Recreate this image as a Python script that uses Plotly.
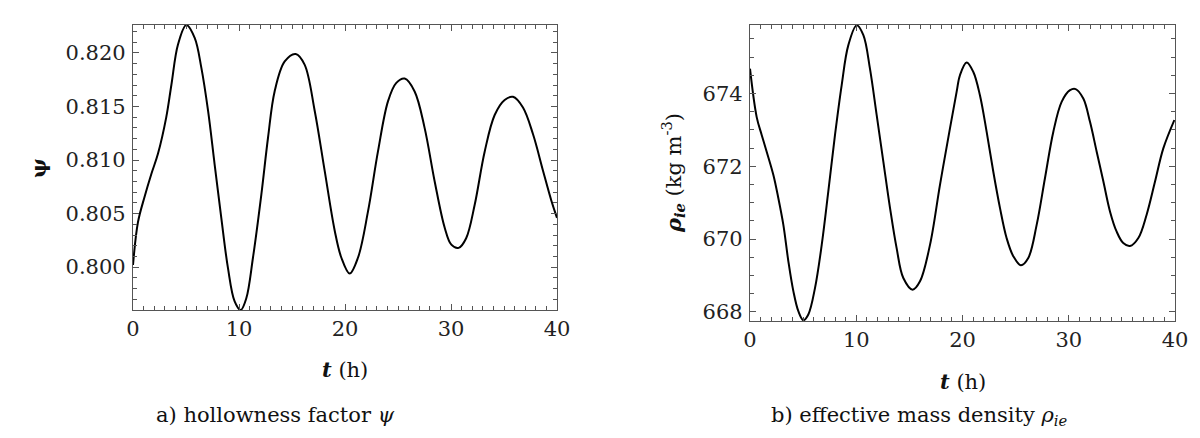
import plotly.graph_objects as go

# hollowness factor psi, read off panel a)
t_psi = [0, 0.47, 1.10, 1.73, 2.36, 3.14, 3.62, 4.25, 5.03, 5.82, 6.45, 7.08,
         7.70, 8.33, 8.96, 9.59, 10.16, 10.69, 11.32, 12.11, 12.74, 13.36, 14.31, 15.35,
         16.19, 17.14, 18.08, 19.03, 19.65, 20.44, 21.23, 22.17, 23.11, 24.06, 24.84,
         25.63, 26.57, 27.51, 28.46, 29.40, 30.03, 30.72, 31.43, 32.23, 33.18, 34.12,
         35.06, 35.85, 36.79, 37.74, 38.68, 39.47, 40.0]
psi = [0.8002, 0.8042, 0.8066, 0.8087, 0.8106, 0.8140, 0.8170, 0.8208,
       0.8226, 0.8214, 0.8186, 0.8146, 0.8096, 0.8046, 0.7999, 0.7968, 0.7960, 0.7971,
       0.8009, 0.8068, 0.8121, 0.8164, 0.8192, 0.8199, 0.8189, 0.8146, 0.8090, 0.8034,
       0.8009, 0.7994, 0.8009, 0.8052, 0.8108, 0.8155, 0.8172, 0.8176, 0.8164, 0.8130,
       0.8080, 0.8037, 0.8021, 0.8018, 0.8027, 0.8058, 0.8108, 0.8142, 0.8156, 0.8159,
       0.8149, 0.8124, 0.8090, 0.8062, 0.8046]

# effective mass density rho_ie (kg m^-3), read off panel b)
t_rho = [0, 0.63, 1.10, 1.57, 2.20, 2.67, 3.14, 3.61, 4.08, 4.55, 5.02, 5.49, 6.12,
         6.75, 7.37, 8.0, 8.63, 9.25, 10.04, 10.67, 11.29, 11.92, 12.55, 13.18, 13.80,
         14.43, 15.31, 16.0, 16.94, 17.88, 18.82, 19.45, 19.76, 20.39, 21.02, 21.64,
         22.27, 22.9, 23.53, 24.15, 24.78, 25.5, 26.19, 26.98, 27.76, 28.55, 29.33,
         30.12, 30.65, 31.37, 32.0, 32.63, 33.26, 33.88, 34.5, 35.13, 35.76, 36.55,
         37.33, 38.12, 38.9, 39.94]
rho = [674.68, 673.35, 672.86, 672.40, 671.76, 671.12, 670.39, 669.39, 668.57,
       668.02, 667.77, 667.93, 668.66, 669.84, 671.31, 672.86, 674.23, 675.32, 675.87,
       675.60, 674.68, 673.41, 672.13, 670.85, 669.75, 668.93, 668.61, 668.84, 669.84,
       671.49, 673.04, 674.05, 674.50, 674.85, 674.59, 673.95, 672.95, 671.85, 670.85,
       670.03, 669.53, 669.28, 669.48, 670.39, 671.67, 672.95, 673.77, 674.09, 674.12,
       673.86, 673.22, 672.40, 671.58, 670.76, 670.21, 669.89, 669.81, 670.03, 670.67,
       671.58, 672.49, 673.27]

W, H = 1200, 438
FONT = "DejaVu Serif"
FRAME = "#555555"


def px_x(x):
    return x / W


def px_y(y):
    return 1 - y / H


fig = go.Figure()
fig.add_trace(go.Scatter(x=t_psi, y=psi, mode="lines", line=dict(color="black", width=2, shape="spline"),
                         xaxis="x", yaxis="y", showlegend=False))
fig.add_trace(go.Scatter(x=t_rho, y=rho, mode="lines", line=dict(color="black", width=2, shape="spline"),
                         xaxis="x2", yaxis="y2", showlegend=False))

common = dict(showline=True, linecolor=FRAME, linewidth=1.2, mirror="ticks", ticks="inside",
              tickcolor=FRAME, ticklen=6, tickwidth=1, showgrid=False, zeroline=False,
              automargin=False, tickfont=dict(family=FONT, size=21, color="#222222"))

fig.update_layout(
    width=W, height=H,
    font=dict(family=FONT, size=21, color="#111111"),
    margin=dict(l=0, r=0, t=0, b=0),
    paper_bgcolor="white", plot_bgcolor="white",
    xaxis=dict(domain=[px_x(125), px_x(549)], anchor="y", range=[0, 40], tick0=0, dtick=10,
               minor=dict(dtick=1, ticks="inside", ticklen=3.5, tickcolor=FRAME),
               ticklabelstandoff=0, **common),
    yaxis=dict(domain=[px_y(302), px_y(17)], anchor="x", range=[0.7960, 0.8226], tick0=0.8,
               dtick=0.005, tickformat=".3f",
               minor=dict(dtick=0.001, ticks="inside", ticklen=3.5, tickcolor=FRAME),
               ticklabelstandoff=2, **common),
    xaxis2=dict(domain=[px_x(742), px_x(1167)], anchor="y2", range=[0, 40], tick0=0, dtick=10,
                minor=dict(dtick=1, ticks="inside", ticklen=3.5, tickcolor=FRAME),
                ticklabelstandoff=0, **common),
    yaxis2=dict(domain=[px_y(313), px_y(17)], anchor="x2", range=[667.75, 675.88], tick0=668,
                dtick=2, minor=dict(dtick=0.5, ticks="inside", ticklen=3.5, tickcolor=FRAME),
                ticklabelstandoff=2, **common),
)

labels = [
    (337, 361, "<b><i>t</i></b> (h)", 0),
    (955, 373, "<b><i>t</i></b> (h)", 0),
    (30, 160, "<b>ψ</b>", -90),
    (665, 165, "<b><i>ρ<sub>ie</sub></i></b> (kg m<sup>-3</sup>)", -90),
    (267, 407, "a) hollowness factor <i>ψ</i>", 0),
    (911, 408, "b) effective mass density <i>ρ<sub>ie</sub></i>", 0),
]
for x, y, text, ang in labels:
    fig.add_annotation(x=px_x(x), y=px_y(y), xref="paper", yref="paper", text=text,
                       showarrow=False, textangle=ang, xanchor="center", yanchor="middle",
                       font=dict(family=FONT, size=21, color="#111111"))

fig.write_html("out.html")
